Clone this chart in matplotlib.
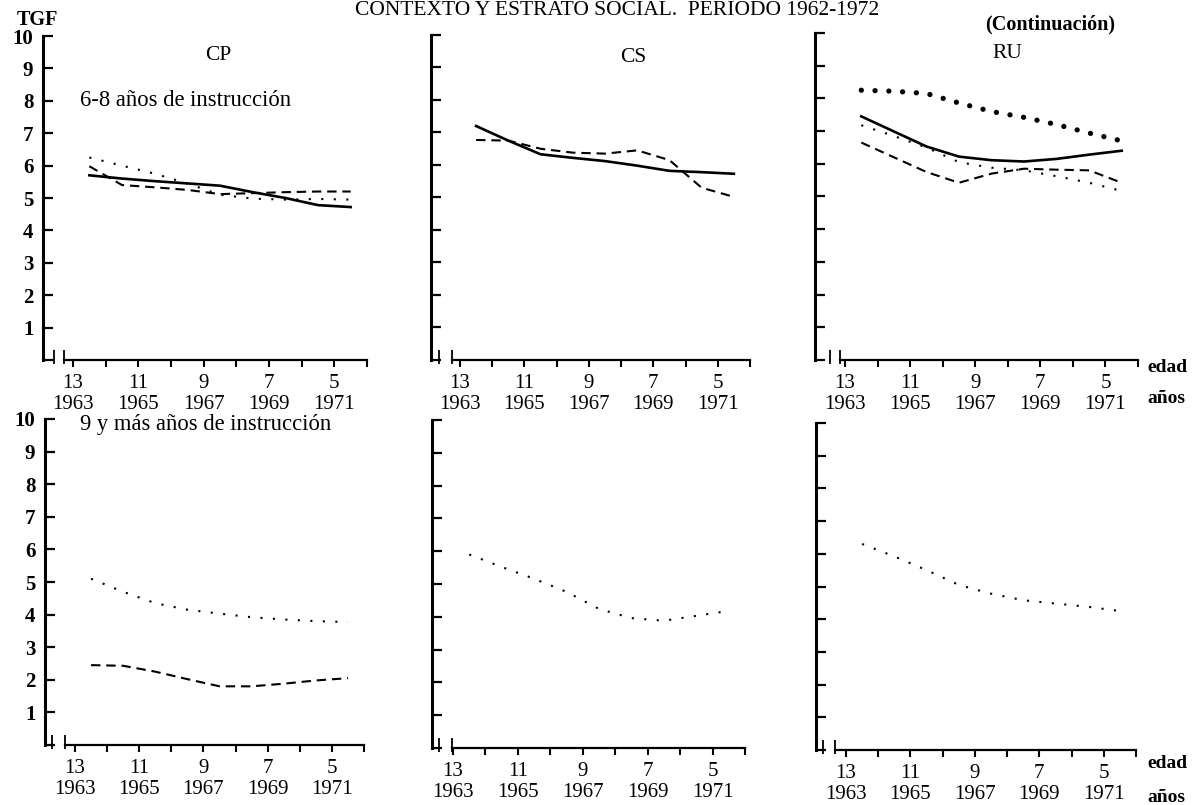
import matplotlib
matplotlib.use("Agg")
import matplotlib.pyplot as plt
from matplotlib.transforms import ScaledTranslation

plt.rcParams["font.family"] = ["Liberation Serif", "DejaVu Serif"]

W, H = 1193, 805

# mid-year points, 1963.5 ... 1971.5
YEARS = [1963.5, 1964.5, 1965.5, 1966.5, 1967.5, 1968.5, 1969.5, 1970.5, 1971.5]

TICK_YEARS = list(range(1963, 1973))
LABEL_YEARS = [1963, 1965, 1967, 1969, 1971]
LABEL_AGES = [13, 11, 9, 7, 5]
TGF_TICKS = list(range(0, 11))

# 6-8 años de instrucción
CP_68_SOLID = [5.70, 5.60, 5.52, 5.45, 5.38, 5.18, 5.00, 4.78, 4.72]
CP_68_DASHED = [5.98, 5.40, 5.33, 5.25, 5.12, 5.15, 5.18, 5.20, 5.20]
CP_68_DOTTED = [6.25, 6.00, 5.75, 5.45, 5.10, 4.98, 4.95, 4.97, 4.95]

CS_68_SOLID = [7.20, 6.75, 6.33, 6.22, 6.12, 5.98, 5.82, 5.78, 5.73]
CS_68_DASHED = [6.77, 6.75, 6.50, 6.38, 6.35, 6.45, 6.15, 5.30, 5.02]

RU_68_BIGDOT = [8.25, 8.22, 8.15, 7.86, 7.60, 7.42, 7.20, 6.94, 6.70]
RU_68_SOLID = [7.45, 6.99, 6.53, 6.22, 6.11, 6.07, 6.15, 6.28, 6.40]
RU_68_DOTTED = [7.18, 6.85, 6.50, 6.05, 5.88, 5.80, 5.62, 5.42, 5.17]
RU_68_DASHED = [6.65, 6.20, 5.75, 5.42, 5.70, 5.85, 5.82, 5.80, 5.42]

# 9 y más años de instrucción
CP_9_DOTTED = [5.10, 4.70, 4.35, 4.15, 4.03, 3.92, 3.85, 3.80, 3.77]
CP_9_DASHED = [2.45, 2.43, 2.25, 2.02, 1.80, 1.80, 1.88, 1.98, 2.05]
CS_9_DOTTED = [5.90, 5.52, 5.16, 4.76, 4.24, 3.96, 3.88, 4.03, 4.18]
RU_9_DOTTED = [6.30, 5.92, 5.50, 5.05, 4.78, 4.58, 4.48, 4.38, 4.25]

STYLES = {
    "solid": dict(linestyle="-", lw=1.9),
    "dashed": dict(linestyle=(0, (4.5, 2.8)), lw=1.5),
    "dotted": dict(linestyle=(0, (1, 5)), lw=1.5),
    "bigdot": dict(linestyle=(0, (0.01, 2.6)), lw=3.8, dash_capstyle="round"),
}

# pixel layout of each panel: y-axis x, 1963 tick x, axis end x, y=10, y=0,
# break marks, downward shift of the TGF labels
LAYOUT = {
    "CP_top": (43, 73, 367, 36, 360, 54, 64, 7),
    "CS_top": (431, 460, 750, 35, 360, 439, 452, 7),
    "RU_top": (815, 845, 1138, 33, 360, 830, 840, 7),
    "CP_bot": (45, 75, 364, 419, 745, 52, 65, 4),
    "CS_bot": (432, 453, 745, 420, 748, 439, 452, 4),
    "RU_bot": (816, 846, 1136, 423, 750, 823, 835, 4),
}

fig = plt.figure(figsize=(W / 100, H / 100), dpi=100)


def make_panel(key, ylabels):
    yx, x63, xend, y10, y0, b1, b2, shift = LAYOUT[key]
    ax = fig.add_axes([yx / W, 1 - y0 / H, (xend - yx) / W, (y0 - y10) / H])
    ppy = (xend - x63) / 9.0
    to_year = lambda px: 1963 + (px - x63) / ppy
    ax.set_xlim(to_year(yx), 1972)
    ax.set_ylim(0, 10)
    ax.patch.set_visible(False)

    for s in ("top", "right"):
        ax.spines[s].set_visible(False)
    ax.spines["left"].set_linewidth(2.2)
    ax.spines["bottom"].set_linewidth(1.6)
    ax.spines["bottom"].set_bounds(to_year(b2), 1972)

    ax.set_yticks(TGF_TICKS)
    if ylabels:
        ax.set_yticklabels([""] + [str(v) for v in TGF_TICKS[1:]],
                           fontsize=15, fontweight="bold")
        down = ScaledTranslation(0, -shift / 100, fig.dpi_scale_trans)
        for lab in ax.get_yticklabels():
            lab.set_transform(lab.get_transform() + down)
    else:
        ax.set_yticklabels([])
    ax.tick_params(axis="y", direction="in", length=7, width=1.6, pad=7)

    ax.set_xticks(TICK_YEARS)
    labels = []
    for yr in TICK_YEARS:
        if yr in LABEL_YEARS:
            labels.append(f"{LABEL_AGES[LABEL_YEARS.index(yr)]}\n{yr}")
        else:
            labels.append("")
    ax.set_xticklabels(labels, fontsize=15, linespacing=1.12)
    ax.tick_params(axis="x", direction="out", length=5, width=1.5, pad=5)

    # axis break marks
    for b in (b1, b2):
        ax.plot([to_year(b)] * 2, [-0.12, 0.3], color="black", lw=1.3,
                clip_on=False, solid_capstyle="butt")
    return ax


def draw(ax, values, style):
    ax.plot(YEARS, values, color="black", clip_on=False, **STYLES[style])


def label(px, py, s, **kw):
    fig.text(px / W, 1 - py / H, s, va="center", **kw)


ax = make_panel("CP_top", True)
draw(ax, CP_68_DOTTED, "dotted")
draw(ax, CP_68_DASHED, "dashed")
draw(ax, CP_68_SOLID, "solid")
label(218, 55, "CP", ha="center", fontsize=15.5)
label(80, 100, "6-8 años de instrucción", ha="left", fontsize=16.3)

ax = make_panel("CS_top", False)
draw(ax, CS_68_DASHED, "dashed")
draw(ax, CS_68_SOLID, "solid")
label(633, 57, "CS", ha="center", fontsize=15.5)

ax = make_panel("RU_top", False)
draw(ax, RU_68_BIGDOT, "bigdot")
draw(ax, RU_68_DOTTED, "dotted")
draw(ax, RU_68_DASHED, "dashed")
draw(ax, RU_68_SOLID, "solid")
label(1007, 53, "RU", ha="center", fontsize=15.5)

ax = make_panel("CP_bot", True)
draw(ax, CP_9_DOTTED, "dotted")
draw(ax, CP_9_DASHED, "dashed")
label(80, 424, "9 y más años de instrucción", ha="left", fontsize=16.3)

ax = make_panel("CS_bot", False)
draw(ax, CS_9_DOTTED, "dotted")

ax = make_panel("RU_bot", False)
draw(ax, RU_9_DOTTED, "dotted")

# headings and axis captions
fig.text(617 / W, 1 - 15 / H, "CONTEXTO Y ESTRATO SOCIAL.  PERIODO 1962-1972",
         ha="center", va="baseline", fontsize=15.5)
label(37, 20, "TGF", ha="center", fontsize=14.5, fontweight="bold")
label(1050, 24, "(Continuación)", ha="center", fontsize=14.5, fontweight="bold")
for y_edad, y_anos in ((368, 398), (763, 797)):
    label(1147, y_edad, "edad", ha="left", fontsize=14, fontweight="bold")
    label(1147, y_anos, "años", ha="left", fontsize=14, fontweight="bold")

fig.savefig("out.png", dpi=100, facecolor="white")
